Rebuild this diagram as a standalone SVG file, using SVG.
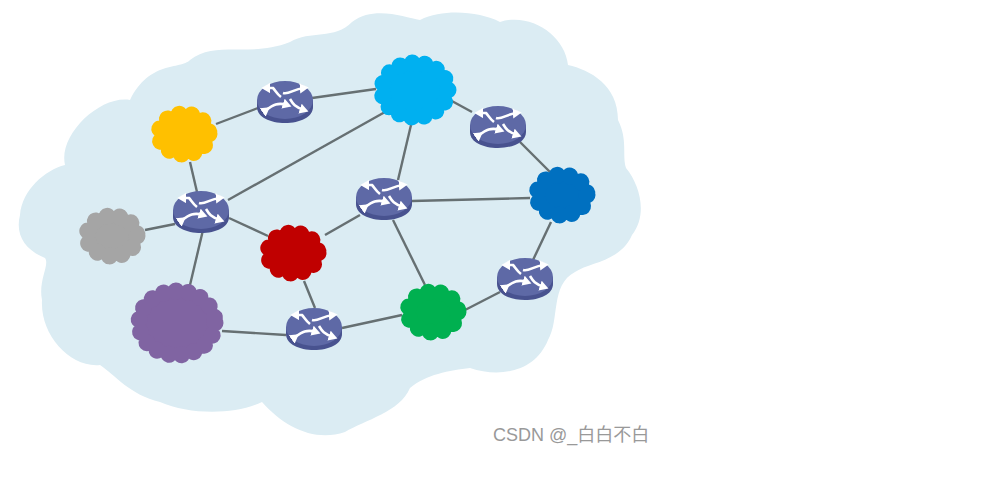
<svg xmlns="http://www.w3.org/2000/svg" width="993" height="487" viewBox="0 0 993 487">
<style>
.cloud{stroke-linecap:round;stroke-width:17;stroke-dasharray:0.1 12.5}
.link{fill:none;stroke:#666f72;stroke-width:2.4}
.arrow{fill:none;stroke:#fff;stroke-width:2.6}
.wm{font:18px "Liberation Sans","Noto Sans CJK SC",sans-serif;fill:#999}
</style>
<defs>
<filter id="soft"><feGaussianBlur stdDeviation="0.5"/></filter>
<marker id="h" markerWidth="4" markerHeight="4" refX="1.6" refY="2" orient="auto"><path d="M0 0L3.4 2L0 4Z" fill="#fff"/></marker>
<g id="router">
<path d="M-28 -1V6C-28 16 -15 22 0 22S28 16 28 6V-1Z" fill="#48528f"/>
<ellipse cx="0" cy="-1" rx="28" ry="19" fill="#5e69a6"/>
<g class="arrow" marker-end="url(#h)">
<path d="M-4 -4C-8 -7 -10 -11 -12 -13H-19" transform="translate(0 0)" marker-end="url(#h)"/>
<path d="M-2 -8C4 -6 8 -12 19 -13" marker-end="url(#h)"/>
<path d="M-19 9C-12 4 -7 1 2 4" marker-start="url(#h)"/>
<path d="M5 -2C8 3 10 6 19 9" marker-end="url(#h)"/>
</g>
</g>
</defs>
<g id="background">
<path fill="#dbecf3" d="M20 215C22 190 45 170 65 165C58 135 100 95 130 100C150 60 180 70 190 60C215 40 250 58 290 42C310 30 335 40 352 22C375 5 405 18 420 20C445 8 480 12 500 22C530 12 565 35 568 65C590 70 618 85 618 120C628 140 622 155 626 168C640 185 648 215 632 235C620 262 590 262 575 272C550 285 560 320 548 340C535 372 500 378 470 368C450 370 425 375 410 388C400 412 365 420 345 432C315 442 285 428 262 402C235 415 190 415 160 402C130 395 115 375 100 365C70 368 40 335 42 300C38 280 50 265 45 258C25 250 15 235 20 215Z"/>
</g>
<g id="connectors" filter="url(#soft)">
<path class="link" d="M216 124L258 108"/>
<path class="link" d="M312 98L376 89"/>
<path class="link" d="M190 162L197 192"/>
<path class="link" d="M228 200L385 112"/>
<path class="link" d="M145 230L175 224"/>
<path class="link" d="M203 230L190 285"/>
<path class="link" d="M229 218L268 236"/>
<path class="link" d="M325 235L360 215"/>
<path class="link" d="M398 180L411 125"/>
<path class="link" d="M450 100L472 112"/>
<path class="link" d="M520 142L550 172"/>
<path class="link" d="M412 201L530 198"/>
<path class="link" d="M393 220L425 285"/>
<path class="link" d="M551 222L533 260"/>
<path class="link" d="M500 292L465 310"/>
<path class="link" d="M402 315L342 328"/>
<path class="link" d="M304 281L315 308"/>
<path class="link" d="M222 331L286 335"/>
</g>
<g id="cloud-yellow"><ellipse class="cloud" cx="184" cy="134" rx="25" ry="20" fill="#ffc000" stroke="#ffc000"/></g>
<g id="cloud-lightblue"><ellipse class="cloud" cx="415" cy="90" rx="33" ry="27" fill="#00b0f0" stroke="#00b0f0"/></g>
<g id="cloud-darkblue"><ellipse class="cloud" cx="562" cy="195" rx="25" ry="20" fill="#0070c0" stroke="#0070c0"/></g>
<g id="cloud-gray"><ellipse class="cloud" cx="112" cy="236" rx="25" ry="20" fill="#a5a5a5" stroke="#a5a5a5"/></g>
<g id="cloud-red"><ellipse class="cloud" cx="293" cy="253" rx="25" ry="20" fill="#c00000" stroke="#c00000"/></g>
<g id="cloud-purple"><ellipse class="cloud" cx="177" cy="323" rx="38" ry="32" fill="#8064a2" stroke="#8064a2"/></g>
<g id="cloud-green"><ellipse class="cloud" cx="433" cy="312" rx="25" ry="20" fill="#00b050" stroke="#00b050"/></g>
<g id="router-1"><use href="#router" x="285" y="101"/></g>
<g id="router-2"><use href="#router" x="201" y="211"/></g>
<g id="router-3"><use href="#router" x="384" y="198"/></g>
<g id="router-4"><use href="#router" x="498" y="126"/></g>
<g id="router-5"><use href="#router" x="525" y="278"/></g>
<g id="router-6"><use href="#router" x="314" y="328"/></g>
<text class="wm" x="493" y="441">CSDN @_白白不白</text>
</svg>
